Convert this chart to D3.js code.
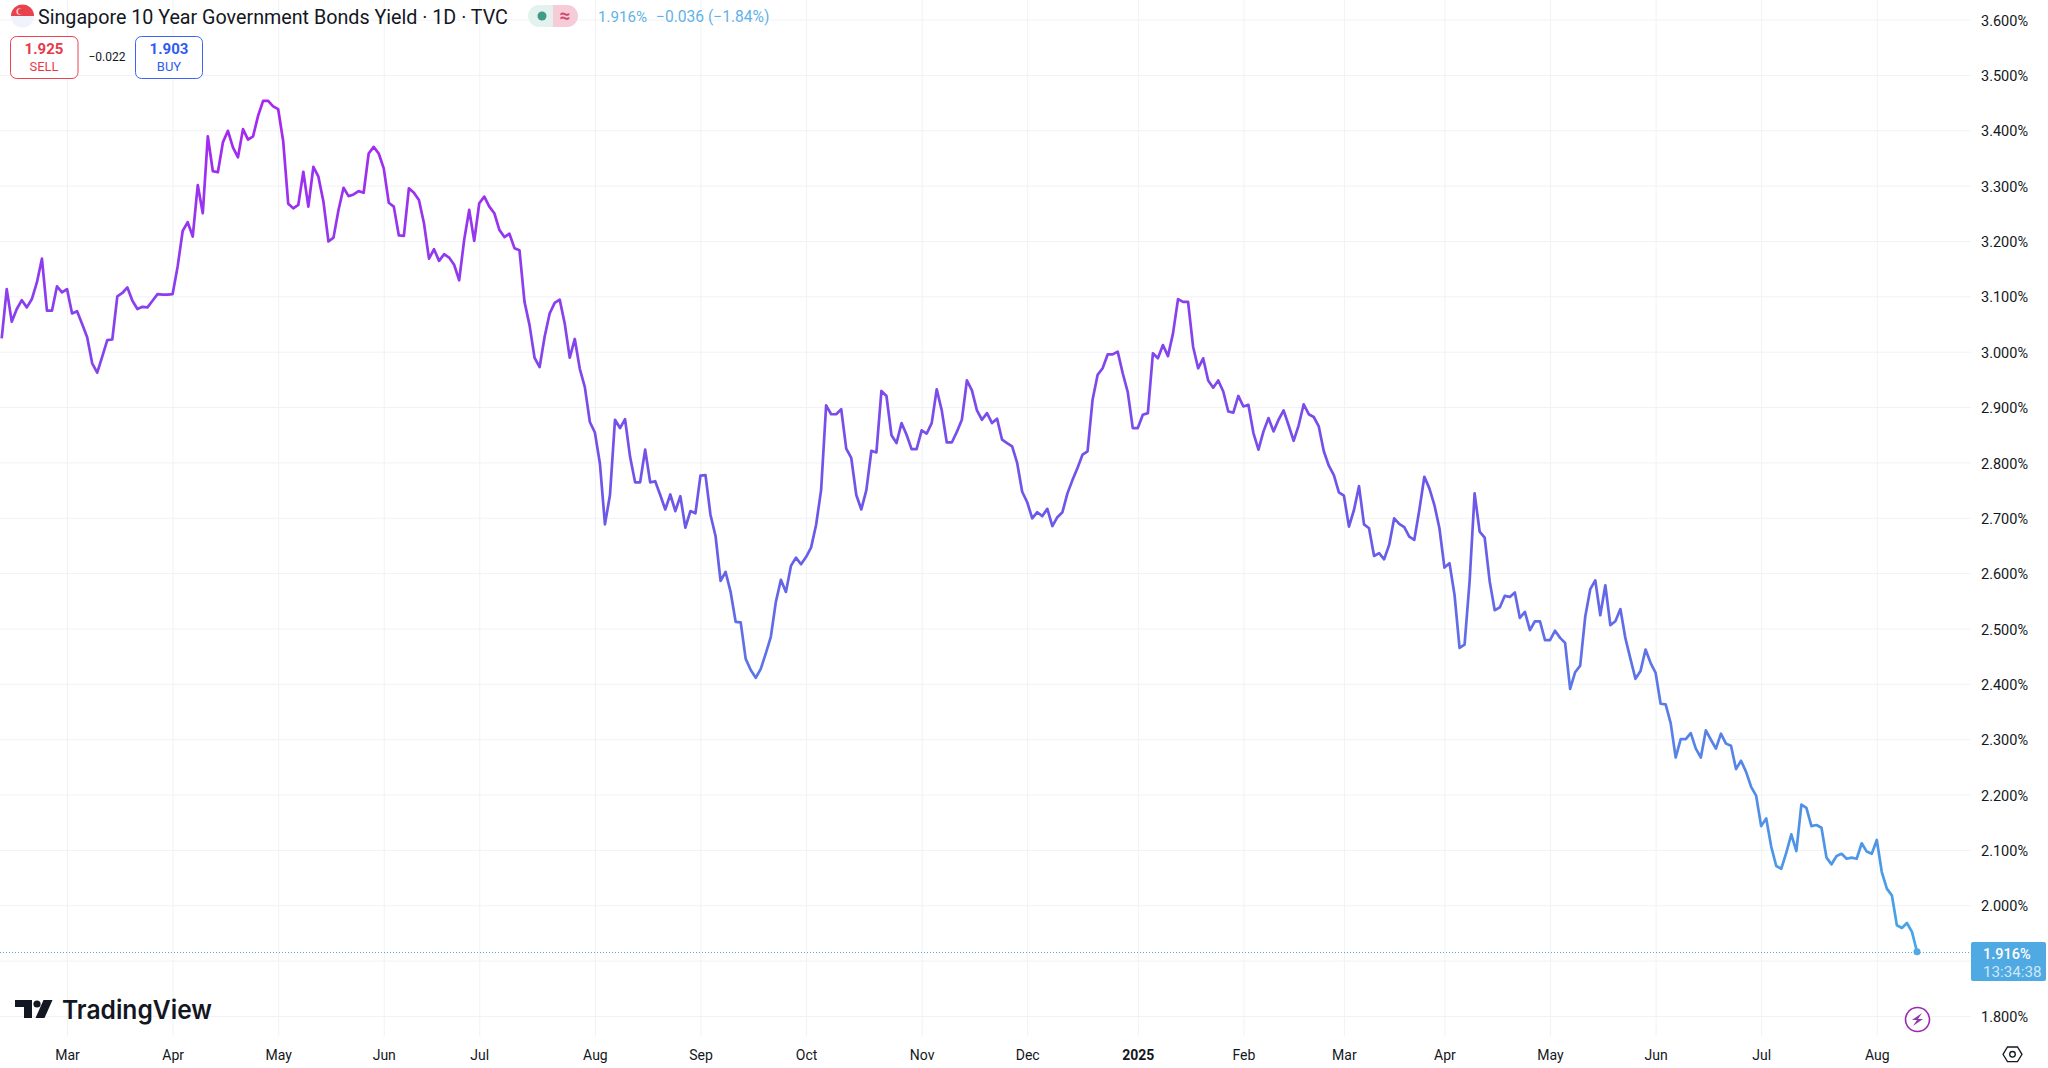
<!doctype html>
<html>
<head>
  <title>Singapore 10 Year Government Bonds Yield</title>
  <meta charset="UTF-8">
  <script src="https://d3js.org/d3.v7.min.js"></script>
  <style>
    body { margin: 0; background: #fff; }
    text { font-family: Roboto, "Noto Sans", sans-serif; }
  </style>
</head>
<body>
  <div id="svg_area"></div>
<script>

// daily close
var yields = [
  3.024,3.113,3.054,3.077,3.093,3.080,3.095,3.125,3.168,3.074,
  3.074,3.118,3.107,3.113,3.069,3.073,3.050,3.026,2.979,2.962,
  2.991,3.021,3.022,3.100,3.106,3.116,3.092,3.077,3.081,3.080,
  3.092,3.104,3.103,3.103,3.104,3.154,3.218,3.234,3.208,3.301,
  3.250,3.389,3.326,3.324,3.378,3.399,3.369,3.351,3.402,3.383,
  3.389,3.426,3.453,3.453,3.443,3.438,3.380,3.267,3.259,3.265,
  3.325,3.262,3.334,3.316,3.271,3.199,3.206,3.256,3.296,3.281,
  3.284,3.290,3.287,3.358,3.370,3.358,3.331,3.269,3.262,3.210,
  3.209,3.295,3.287,3.274,3.232,3.168,3.185,3.164,3.176,3.170,
  3.157,3.129,3.202,3.256,3.200,3.268,3.280,3.262,3.250,3.220,
  3.207,3.213,3.187,3.183,3.090,3.048,2.989,2.972,3.027,3.069,
  3.088,3.094,3.051,2.989,3.023,2.969,2.936,2.873,2.854,2.798,
  2.688,2.741,2.877,2.862,2.878,2.810,2.764,2.764,2.823,2.764,
  2.766,2.741,2.715,2.742,2.712,2.739,2.682,2.712,2.708,2.776,
  2.777,2.705,2.667,2.586,2.602,2.566,2.512,2.511,2.445,2.425,
  2.411,2.427,2.455,2.485,2.548,2.588,2.566,2.613,2.628,2.616,
  2.629,2.646,2.687,2.750,2.903,2.887,2.887,2.896,2.825,2.808,
  2.741,2.715,2.750,2.821,2.818,2.929,2.920,2.849,2.835,2.871,
  2.850,2.824,2.824,2.858,2.852,2.871,2.932,2.894,2.836,2.836,
  2.855,2.877,2.948,2.930,2.894,2.877,2.889,2.871,2.879,
  2.841,2.835,2.829,2.799,2.747,2.728,2.699,2.710,2.703,2.716,
  2.685,2.701,2.710,2.744,2.768,2.790,2.814,2.820,2.913,2.958,
  2.970,2.995,2.995,3.000,2.961,2.927,2.862,2.862,2.886,2.889,
  2.997,2.988,3.012,2.992,3.033,3.095,3.090,3.090,3.009,2.970,
  2.988,2.948,2.935,2.948,2.928,2.892,2.890,2.920,2.901,2.904,
  2.853,2.823,2.856,2.880,2.856,2.877,2.894,2.867,2.839,2.867,
  2.905,2.887,2.882,2.865,2.820,2.794,2.777,2.746,2.740,2.684,
  2.714,2.757,2.688,2.681,2.631,2.636,2.625,2.651,2.699,2.689,
  2.683,2.666,2.660,2.714,2.774,2.753,2.723,2.681,2.610,2.618,
  2.561,2.465,2.471,2.585,2.744,2.675,2.664,2.585,2.533,2.538,
  2.559,2.557,2.565,2.519,2.530,2.497,2.513,2.513,2.479,2.479,
  2.496,2.483,2.474,2.391,2.421,2.433,2.521,2.571,2.587,2.524,
  2.578,2.506,2.513,2.535,2.482,2.445,2.409,2.423,2.462,2.438,
  2.420,2.364,2.363,2.329,2.267,2.300,2.300,2.311,2.283,2.267,
  2.316,2.299,2.283,2.310,2.292,2.288,2.246,2.261,2.241,2.214,
  2.198,2.143,2.157,2.106,2.071,2.066,2.095,2.128,2.098,2.182,
  2.176,2.143,2.145,2.140,2.086,2.074,2.089,2.093,2.084,2.086,
  2.084,2.112,2.097,2.093,2.118,2.060,2.030,2.018,1.964,1.959,
  1.968,1.952,1.916
];

// month ticks: bar number and label
var monthBars = [13,34,55,76,95,118,139,160,183,204,226,247,267,287,308,329,350,373];
var monthLabels = ["Mar","Apr","May","Jun","Jul","Aug","Sep","Oct","Nov","Dec","2025","Feb","Mar","Apr","May","Jun","Jul","Aug"];

var priceTicks = [1.8,1.9,2.0,2.1,2.2,2.3,2.4,2.5,2.6,2.7,2.8,2.9,3.0,3.1,3.2,3.3,3.4,3.5,3.6];
// 1.9 sits behind the last price badge, so it only gets a grid line
var priceLabels = [1.8,2.0,2.1,2.2,2.3,2.4,2.5,2.6,2.7,2.8,2.9,3.0,3.1,3.2,3.3,3.4,3.5,3.6];

var titleText = "Singapore 10 Year Government Bonds Yield · 1D · TVC";
var lastPrice = 1.916;

var svg = d3.select("#svg_area").append("svg")
    .attr("width", 2048)
    .attr("height", 1068)
    .style("display", "block");

var xScale = d3.scaleLinear().domain([0, yields.length - 1]).range([1.7, 1917]);
var yScale = d3.scaleLinear().domain([1.8, 3.6]).range([1016, 19.5]);

// vertical gradient, purple at the top of the line and blue at the bottom
var defs = svg.append("defs");
var grad = defs.append("linearGradient")
    .attr("id", "lineGrad")
    .attr("gradientUnits", "userSpaceOnUse")
    .attr("x1", 0).attr("x2", 0)
    .attr("y1", yScale(d3.max(yields))).attr("y2", yScale(d3.min(yields)));
grad.append("stop").attr("offset", "0%").attr("stop-color", "#a827f0");
grad.append("stop").attr("offset", "50%").attr("stop-color", "#6a5ae8");
grad.append("stop").attr("offset", "100%").attr("stop-color", "#45a9e6");

// grid lines
var gridColor = "#f1f2f4";
var xGrid = d3.axisBottom(xScale).tickValues(monthBars).tickSize(1036).tickFormat("");
svg.append("g").call(xGrid).call(function (g) {
  g.select(".domain").remove();
  g.selectAll("line").attr("stroke", gridColor);
});

var yGrid = d3.axisRight(yScale).tickValues(priceTicks).tickSize(1971).tickFormat("");
svg.append("g").call(yGrid).call(function (g) {
  g.select(".domain").remove();
  g.selectAll("line").attr("stroke", gridColor);
});

// last price dotted line
svg.append("line")
    .attr("x1", 0).attr("x2", 1971)
    .attr("y1", Math.round(yScale(lastPrice)) + 0.5).attr("y2", Math.round(yScale(lastPrice)) + 0.5)
    .attr("stroke", "#4fa9e2")
    .attr("stroke-width", 1)
    .attr("stroke-dasharray", "1 2");

// the yield line
var line = d3.line()
    .x(function (d, i) { return xScale(i); })
    .y(function (d) { return yScale(d); });

svg.append("path")
    .datum(yields)
    .attr("d", line)
    .attr("fill", "none")
    .attr("stroke", "url(#lineGrad)")
    .attr("stroke-width", 2.7)
    .attr("stroke-linejoin", "round");

svg.append("circle")
    .attr("cx", xScale(yields.length - 1))
    .attr("cy", yScale(lastPrice))
    .attr("r", 3.5)
    .attr("fill", "#4fa9e2");

// price axis labels
var yAxis = d3.axisRight(yScale)
    .tickValues(priceLabels)
    .tickSize(0)
    .tickPadding(10)
    .tickFormat(function (d) { return d3.format(".3f")(d) + "%"; });
svg.append("g")
    .attr("transform", "translate(1971,1)")
    .call(yAxis)
    .call(function (g) {
      g.select(".domain").remove();
      g.selectAll("text").attr("font-size", 14.5).attr("fill", "#131722")
        .style("font-family", "Roboto, sans-serif");
    });

// month labels
var xAxis = d3.axisBottom(xScale)
    .tickValues(monthBars)
    .tickSize(0)
    .tickPadding(0)
    .tickFormat(function (d, i) { return monthLabels[i]; });
svg.append("g")
    .attr("transform", "translate(0,1050)")
    .call(xAxis)
    .call(function (g) {
      g.select(".domain").remove();
      g.selectAll("text").attr("font-size", 14).attr("fill", "#131722")
        .style("font-family", "Roboto, sans-serif")
        .attr("font-weight", function (d, i) { return monthLabels[i] == "2025" ? 700 : 400; });
    });

// last price badge
svg.append("rect")
    .attr("x", 1971).attr("y", 942).attr("width", 75).attr("height", 39)
    .attr("rx", 2)
    .attr("fill", "#4fa9e2");
svg.append("text").attr("x", 1983).attr("y", 959)
    .attr("font-size", 14.5).attr("font-weight", 500).attr("fill", "#fff")
    .text("1.916%");
svg.append("text").attr("x", 1983).attr("y", 976.5)
    .attr("font-size", 15.2).attr("fill", "#cfe7f8")
    .text("13:34:38");

// header
svg.append("path").attr("d", "M11,16 a11.5,11.5 0 0 1 23,0 Z").attr("fill", "#e8424f");
svg.append("path").attr("d", "M11,16 a11.5,11.5 0 0 0 23,0 Z").attr("fill", "#f0f3fa");
svg.append("circle").attr("cx", 19.5).attr("cy", 11.5).attr("r", 3.2).attr("fill", "#f6c6ca");
svg.append("circle").attr("cx", 21).attr("cy", 11.5).attr("r", 3).attr("fill", "#e8424f");

svg.append("text").attr("x", 38).attr("y", 23.5)
    .attr("font-size", 19.7).attr("fill", "#131722")
    .text(titleText);

svg.append("path").attr("d", "M553,5 h-14 a11,11 0 0 0 0,22 h14 Z").attr("fill", "#e4f2ef");
svg.append("path").attr("d", "M553,5 h14 a11,11 0 0 1 0,22 h-14 Z").attr("fill", "#f5ccd8");
svg.append("circle").attr("cx", 542).attr("cy", 16).attr("r", 4.5).attr("fill", "#3f9a86");
svg.append("text").attr("x", 565).attr("y", 22)
    .attr("text-anchor", "middle").attr("font-size", 19).attr("font-weight", 700)
    .attr("fill", "#d4456e").text("≈");

svg.append("text").attr("x", 598).attr("y", 21.5)
    .attr("font-size", 15.1).attr("fill", "#5fb3e8").text("1.916%");
svg.append("text").attr("x", 656).attr("y", 21.5)
    .attr("font-size", 15.6).attr("fill", "#5fb3e8").text("−0.036 (−1.84%)");

// sell and buy boxes
svg.append("rect").attr("x", 10.5).attr("y", 36.5).attr("width", 67.5).attr("height", 42)
    .attr("rx", 6).attr("fill", "#fff").attr("stroke", "#f0414f");
svg.append("text").attr("x", 44).attr("y", 54).attr("text-anchor", "middle")
    .attr("font-size", 15).attr("font-weight", 700).attr("fill", "#e8394a").text("1.925");
svg.append("text").attr("x", 44).attr("y", 71).attr("text-anchor", "middle")
    .attr("font-size", 13).attr("fill", "#e8394a").text("SELL");

svg.append("text").attr("x", 107).attr("y", 61).attr("text-anchor", "middle")
    .attr("font-size", 12).attr("fill", "#131722").text("−0.022");

svg.append("rect").attr("x", 135.5).attr("y", 36.5).attr("width", 67).attr("height", 42)
    .attr("rx", 6).attr("fill", "#fff").attr("stroke", "#3d63f5");
svg.append("text").attr("x", 169).attr("y", 54).attr("text-anchor", "middle")
    .attr("font-size", 15).attr("font-weight", 700).attr("fill", "#2f5cf0").text("1.903");
svg.append("text").attr("x", 169).attr("y", 71).attr("text-anchor", "middle")
    .attr("font-size", 13).attr("fill", "#2f5cf0").text("BUY");

// TradingView logo
var logoColor = "#131722";
svg.append("path").attr("d", "M15,1000 H32 V1018 H24 V1007 H15 Z").attr("fill", logoColor);
svg.append("circle").attr("cx", 37).attr("cy", 1004).attr("r", 3.6).attr("fill", logoColor);
svg.append("path").attr("d", "M43.5,1000 H52.5 L44.5,1018 H35.5 Z").attr("fill", logoColor);
svg.append("text").attr("x", 62).attr("y", 1019)
    .attr("font-size", 26).attr("font-weight", 600).attr("fill", logoColor)
    .style("font-family", "Inter, Roboto, sans-serif")
    .attr("textLength", 150).attr("lengthAdjust", "spacingAndGlyphs")
    .text("TradingView");

// lightning button
svg.append("circle").attr("cx", 1917.5).attr("cy", 1019.5).attr("r", 12)
    .attr("fill", "#fff").attr("stroke", "#9c27b0").attr("stroke-width", 1.6);
svg.append("path").attr("d", "M1922,1013 L1912,1020 H1917 L1913,1026 L1923,1019 H1918 Z")
    .attr("fill", "#8e3aa8");

// settings hexagon
svg.append("path").attr("d", "M2003,1054.3 L2007.5,1047 H2017.5 L2022,1054.3 L2017.5,1061.6 H2007.5 Z")
    .attr("fill", "none").attr("stroke", "#131722").attr("stroke-width", 1.3);
svg.append("circle").attr("cx", 2012.5).attr("cy", 1054.3).attr("r", 2.8)
    .attr("fill", "none").attr("stroke", "#131722").attr("stroke-width", 1.3);

</script>
</body>
</html>
